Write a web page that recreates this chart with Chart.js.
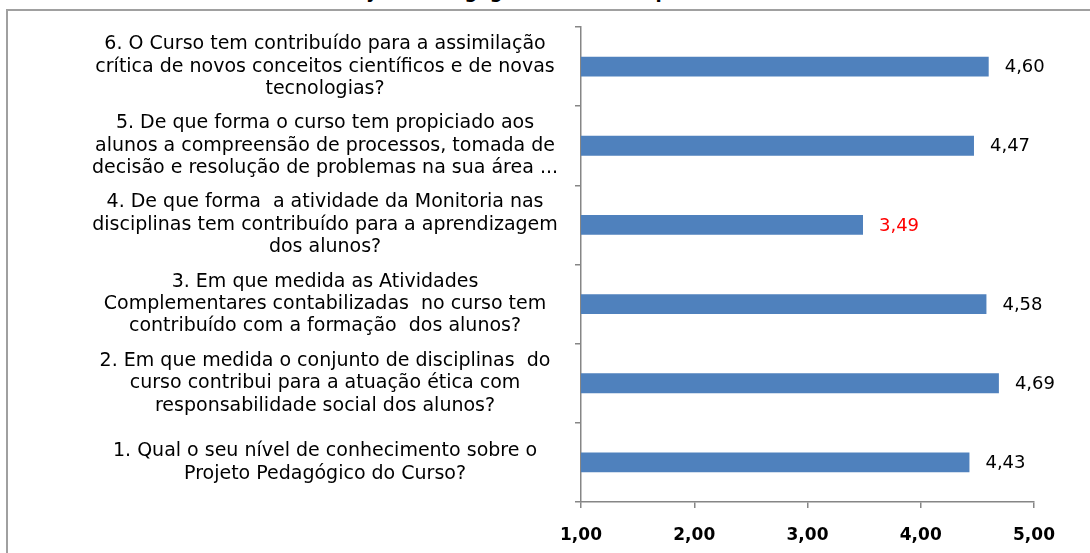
<!DOCTYPE html>
<html lang="pt">
<head>
<meta charset="utf-8">
<script src="https://cdn.jsdelivr.net/npm/chart.js@4.4.1/dist/chart.umd.min.js"></script>
<style>
    html, body { margin: 0; padding: 0; background: #fff; overflow: hidden; }
    body { width: 1090px; height: 553px; position: relative; }
    #titulo {
        position: absolute; left: 0; width: 1090px; top: -18px;
        text-align: center; font: bold 18px "DejaVu Sans", sans-serif; line-height: 20px; color: #000;
    }
    #moldura {
        position: absolute; left: 6px; top: 9px; width: 1100px; height: 560px;
        border: 2px solid #a0a0a0; box-sizing: border-box;
    }
    #grafico { position: absolute; left: 0; top: 0; }
</style>
</head>
<body>
<div id="titulo">Gráfico 1 - Projeto Pedagógico - Visão dos professores e alunos</div>
<div id="moldura"></div>
<canvas id="grafico" width="1090" height="553"></canvas>
<script>
// perguntas (de cima para baixo, como aparecem no gráfico)
const perguntas = [
    ['6. O Curso tem contribuído para a assimilação', 'crítica de novos conceitos científicos e de novas', 'tecnologias?'],
    ['5. De que forma o curso tem propiciado aos', 'alunos a compreensão de processos, tomada de', 'decisão e resolução de problemas na sua área ...'],
    ['4. De que forma  a atividade da Monitoria nas', 'disciplinas tem contribuído para a aprendizagem', 'dos alunos?'],
    ['3. Em que medida as Atividades', 'Complementares contabilizadas  no curso tem', 'contribuído com a formação  dos alunos?'],
    ['2. Em que medida o conjunto de disciplinas  do', 'curso contribui para a atuação ética com', 'responsabilidade social dos alunos?'],
    ['1. Qual o seu nível de conhecimento sobre o', 'Projeto Pedagógico do Curso?']
];
const medias = [4.60, 4.47, 3.49, 4.58, 4.69, 4.43];
const escalaMin = 1;
const escalaMax = 5;
const destaque = 2; // index of the value shown in red

const fmt = v => v.toFixed(2).replace('.', ',');

// draws the value next to each bar
const rotulosValor = {
    id: 'rotulosValor',
    afterDatasetsDraw(chart) {
        const ctx = chart.ctx;
        const meta = chart.getDatasetMeta(0);
        ctx.save();
        ctx.font = '18px "DejaVu Sans", sans-serif';
        ctx.textAlign = 'left';
        ctx.textBaseline = 'middle';
        meta.data.forEach((bar, i) => {
            ctx.fillStyle = i === destaque ? '#ff0000' : '#000000';
            ctx.fillText(fmt(medias[i]), bar.x + 16, bar.y + 1);
        });
        ctx.restore();
    }
};

new Chart(document.getElementById('grafico').getContext('2d'), {
    type: 'bar',
    data: {
        labels: perguntas,
        datasets: [{
            data: medias,
            backgroundColor: '#4f81bd',
            borderWidth: 0,
            categoryPercentage: 1,
            barPercentage: 0.25
        }]
    },
    options: {
        indexAxis: 'y',
        responsive: false,
        animation: false,
        layout: { padding: { left: 8, top: 27, right: 56, bottom: 0 } },
        plugins: {
            legend: { display: false },
            tooltip: { enabled: false }
        },
        scales: {
            x: {
                min: escalaMin,
                max: escalaMax,
                afterFit: s => { s.height = 51; },
                border: { color: '#868686', width: 1.5 },
                grid: { drawOnChartArea: false, tickLength: 6, color: '#868686', lineWidth: 1.5 },
                ticks: {
                    stepSize: 1,
                    padding: 17,
                    color: '#000',
                    font: { family: 'DejaVu Sans', size: 17, weight: 'bold' },
                    callback: v => fmt(v)
                }
            },
            y: {
                afterFit: s => { s.width = 573; s.paddingTop = 0; s.paddingBottom = 0; },
                border: { color: '#868686', width: 1.5 },
                grid: { drawOnChartArea: false, tickLength: 6, color: '#868686', lineWidth: 1.5, offset: true },
                ticks: {
                    crossAlign: 'center',
                    padding: 17,
                    color: '#000',
                    font: { family: 'DejaVu Sans', size: 19, lineHeight: 1.18 }
                }
            }
        }
    },
    plugins: [rotulosValor]
});
</script>
</body>
</html>
